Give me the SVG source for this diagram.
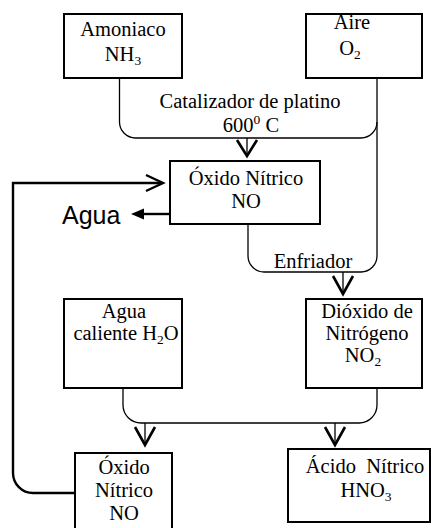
<svg xmlns="http://www.w3.org/2000/svg" width="431" height="528" viewBox="0 0 431 528">
<style>
.box{fill:#fff;stroke:#000;stroke-width:2}
.t{font-family:"Liberation Serif","Times New Roman",serif;font-size:20.5px;fill:#000;text-anchor:middle}
.sub{font-size:13.5px}
.ln{fill:none;stroke:#000;stroke-width:1.3}
.thick{fill:none;stroke:#000;stroke-width:2.4}
.chev{fill:none;stroke:#000;stroke-width:2.6}
</style>
<rect width="431" height="528" fill="#fff"/>
<g id="connectors">
<path class="ln" d="M119.5,78 V122 A16,16 0 0 0 135.5,138 H361 A16,16 0 0 0 377,122"/>
<path class="ln" d="M377,78 V256 A16,16 0 0 1 361,272 H264 A16,16 0 0 1 248,256 V224"/>
<path class="ln" d="M247,138 V156"/>
<path class="chev" d="M237,140 L247,156 L257,140"/>
<path class="ln" d="M343,272 V294"/>
<path class="chev" d="M333,276 L343,294 L353,276"/>
<path class="ln" d="M123,388 V405 A18,18 0 0 0 141,423 H359 A18,18 0 0 0 377,405 V388"/>
<path class="ln" d="M145,423 V444"/>
<path class="chev" d="M135,427 L145,445 L155,427"/>
<path class="ln" d="M335,423 V444"/>
<path class="chev" d="M325,427 L335,445 L345,427"/>
<path class="thick" d="M75,493 H33 A20,20 0 0 1 13,473 V183 H162"/>
<path class="thick" d="M146,175 L163,183 L146,191"/>
<path class="thick" d="M170,214 H142"/>
<path d="M131,214 L144,208.5 L144,219.5 Z" fill="#000"/>
<text x="62" y="224" style="font-family:'Liberation Sans',Arial,sans-serif;font-size:25px">Agua</text>
<text class="t" x="250" y="108">Catalizador de platino</text>
<text class="t" x="251" y="132">600<tspan class="sub" dy="-8">0</tspan><tspan dy="8"> C</tspan></text>
<text class="t" x="313" y="268">Enfriador</text>
</g>
<g id="amoniaco">
<rect class="box" x="64" y="14" width="118" height="64"/>
<text class="t" x="123" y="36">Amoniaco</text>
<text class="t" x="123" y="61">NH<tspan class="sub" dy="4">3</tspan></text>
</g>
<g id="aire">
<rect class="box" x="306" y="14" width="116" height="64"/>
<text class="t" x="352" y="29">Aire</text>
<text class="t" x="350" y="55">O<tspan class="sub" dy="4">2</tspan></text>
</g>
<g id="oxido-nitrico">
<rect class="box" x="170" y="161" width="150" height="63"/>
<text class="t" x="246" y="185">Óxido Nítrico</text>
<text class="t" x="246" y="208">NO</text>
</g>
<g id="agua-caliente">
<rect class="box" x="64" y="299" width="118" height="89"/>
<text class="t" x="124" y="318">Agua</text>
<text class="t" x="126" y="340">caliente H<tspan class="sub" dy="4">2</tspan><tspan dy="-4">O</tspan></text>
</g>
<g id="dioxido">
<rect class="box" x="306" y="299" width="116" height="89"/>
<text class="t" x="367" y="318">Dióxido de</text>
<text class="t" x="367" y="340">Nitrógeno</text>
<text class="t" x="363" y="362">NO<tspan class="sub" dy="4">2</tspan></text>
</g>
<g id="oxido-nitrico-2">
<rect class="box" x="75" y="453" width="97" height="80"/>
<text class="t" x="124" y="474">Óxido</text>
<text class="t" x="124" y="497">Nítrico</text>
<text class="t" x="124" y="520">NO</text>
</g>
<g id="acido-nitrico">
<rect class="box" x="288" y="449" width="142" height="73"/>
<text class="t" x="365" y="473" xml:space="preserve">Ácido  Nítrico</text>
<text class="t" x="366" y="497">HNO<tspan class="sub" dy="4">3</tspan></text>
</g>
</svg>
